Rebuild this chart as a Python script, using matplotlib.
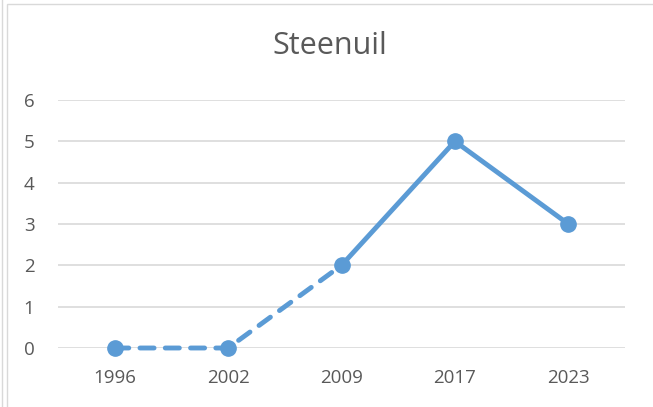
import matplotlib.pyplot as plt
from matplotlib.patches import Rectangle
from matplotlib.lines import Line2D

years = ["1996", "2002", "2009", "2017", "2023"]
counts = [0, 0, 2, 5, 3]

blue = "#5B9BD5"
grey = "#595959"

plt.rcParams["font.family"] = ["Open Sans", "DejaVu Sans"]

fig = plt.figure(figsize=(6.53, 4.07), dpi=100)
ax = fig.add_axes([58 / 653, 1 - 348 / 407, (625 - 58) / 653, (348 - 100) / 407])

x = list(range(len(years)))
# dashed part up to 2009, solid afterwards
ax.plot(x[:3], counts[:3], color=blue, lw=3.5, linestyle=(0, (2.9, 2.3)),
        dash_capstyle="round", solid_capstyle="round", zorder=3)
ax.plot(x[2:], counts[2:], color=blue, lw=3.5, solid_capstyle="round", zorder=3)
ax.plot(x, counts, linestyle="none", marker="o", ms=11, color=blue, zorder=4)

ax.set_xlim(-0.5, len(years) - 0.5)
ax.set_ylim(0, 6)
ax.set_yticks(range(0, 7))
ax.set_xticks(x)
ax.set_xticklabels(years)
ax.grid(axis="y", color="#D9D9D9", lw=1.2)
ax.set_axisbelow(True)
for s in ax.spines.values():
    s.set_visible(False)
ax.tick_params(length=0, labelsize=13.5, colors=grey, pad=15)
ax.tick_params(axis="y", pad=17)
for line in ax.lines:
    line.set_clip_on(False)

fig.text(330 / 653, 1 - 46 / 407, "Steenuil", ha="center", va="center",
         fontsize=22, color=grey)

# chart frame
fig.add_artist(Rectangle((7 / 653, -0.1), 1.1, 1 - 4 / 407 + 0.1,
                         transform=fig.transFigure, fill=False,
                         edgecolor="#D9D9D9", lw=1))
fig.add_artist(Line2D([2 / 653, 2 / 653], [0, 1], transform=fig.transFigure,
                      color="#D9D9D9", lw=1))

fig.savefig("out.png", dpi=100)
